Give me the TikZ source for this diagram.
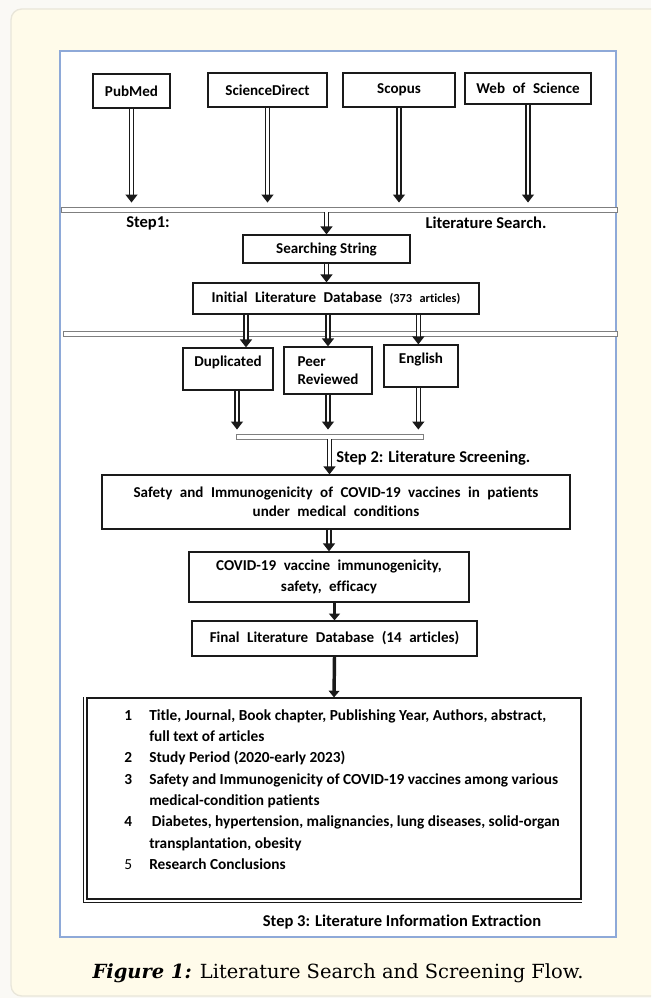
\documentclass[tikz,border=0pt]{standalone}
\usepackage{fontspec}
\setmainfont{Carlito}[Ligatures=NoCommon]
\newfontfamily\capfont{DejaVu Serif}
\usetikzlibrary{arrows.meta,positioning}
\definecolor{Ink}{HTML}{1A1A1A}
\definecolor{FrameBlue}{HTML}{8EA9D8}
\definecolor{BarGray}{HTML}{7F7F7F}
\definecolor{PanelFill}{HTML}{FFFBEA}
\definecolor{PanelEdge}{HTML}{E9E6DA}
\definecolor{PageFill}{HTML}{FAF9F5}
\newcommand\widegaps{\spaceskip=0.5em plus 0.1em\relax}
\tikzset{
  srcbox/.style={draw=Ink,fill=white,line width=0.9pt,font=\bfseries\fontsize{11.3}{13.5}\selectfont,inner sep=2pt,align=center},
  widebox/.style={srcbox,font=\bfseries\fontsize{11.3}{14.5}\selectfont\widegaps},
  flowbar/.style={draw=BarGray,fill=white,line width=0.7pt,inner sep=0pt,minimum height=3.75pt},
  steplabel/.style={font=\bfseries\fontsize{12.4}{14}\selectfont,inner sep=0pt},
  dblarrow/.style={draw=Ink,double=white,double distance=1.9pt,line width=1.05pt,-{Triangle[width=9pt,length=6pt]}},
  solidarrow/.style={draw=Ink,line width=2.6pt,-{Triangle[width=8pt,length=5pt]}},
  gapend/.style={shorten >=3pt}
}

\begin{document}
\begin{tikzpicture}[x=0.75pt,y=-0.75pt]
  \useasboundingbox (0,0) rectangle (651,998);
  \clip (0,0) rectangle (651,998);
  \fill[PageFill] (0,0) rectangle (651,998);
  \draw[PanelEdge,fill=PanelFill,line width=1pt,rounded corners=8pt] (11,9) rectangle (680,996);
  \draw[FrameBlue,fill=white,line width=1.1pt] (60,51) rectangle (616,937);

  % Step 1: sources
  \node[srcbox,minimum width=57.75pt,minimum height=25.5pt] (pubmed) at (131.5,91) {PubMed};
  \node[srcbox,minimum width=89.25pt,minimum height=25.5pt] (sdirect) at (267.5,90) {ScienceDirect};
  \node[srcbox,minimum width=84pt,minimum height=25.5pt] (scopus) at (399,90) {Scopus};
  \node[widebox,minimum width=94.5pt,minimum height=23.25pt] (wos) at (528,88.5) {Web of Science};
  \node[flowbar,minimum width=417pt] (bar1) at (339,209.5) {};
  \node[steplabel] (step1) at (148,223) {Step1:};
  \node[steplabel] (litsearch) at (486,223) {Literature Search.};
  \node[srcbox,minimum width=125.25pt,minimum height=21pt] (searching) at (326.5,249) {Searching String};
  \node[widebox,minimum width=214.5pt,minimum height=23.25pt] (initial) at (336,298.5) {Initial Literature Database {\fontsize{9.2}{11}\selectfont(373 articles)}};

  % Step 2: screening
  \node[flowbar,minimum width=415.5pt] (bar2) at (340,333.5) {};
  \node[srcbox,minimum width=67.5pt,minimum height=31.5pt,text depth=11pt] (dup) at (228,369) {Duplicated};
  \node[srcbox,minimum width=66pt,minimum height=35.25pt,align=left] (peer) at (328,370.5) {Peer\\Reviewed};
  \node[srcbox,minimum width=55.5pt,minimum height=31.5pt,text depth=11pt] (english) at (421,366) {English};
  \node[flowbar,minimum width=140.25pt] (bar3) at (329.5,436.5) {};
  \node[steplabel,anchor=west] (step2) at (336,458) {Step 2: Literature Screening.};
  \node[widebox,minimum width=351pt,minimum height=40.5pt] (safety) at (336,502) {Safety and Immunogenicity of COVID-19 vaccines in patients\\under medical conditions};
  \node[widebox,minimum width=210pt,minimum height=37.5pt,font=\bfseries\fontsize{11.3}{15.75}\selectfont\widegaps] (covid) at (329,577) {COVID-19 vaccine immunogenicity,\\safety, efficacy};
  \node[widebox,minimum width=213.75pt,minimum height=26.25pt] (final) at (334.5,638.5) {Final Literature Database (14 articles)};

  % Step 3: extraction
  \node[srcbox,minimum width=370.5pt,minimum height=150.75pt] (list) at (334,798.5) {};
  \draw[Ink,line width=0.6pt] ([xshift=-2.2pt]list.north west) |- ([yshift=-2.2pt]list.south east);
  \node[anchor=base west,inner sep=0pt,font=\bfseries\fontsize{11.5}{16}\selectfont] (items) at (124,720) {%
    \begin{tabular}[t]{@{}p{18.75pt}@{}l@{}}
      1 & Title, Journal, Book chapter, Publishing Year, Authors, abstract,\\
        & full text of articles\\
      2 & Study Period (2020-early 2023)\\
      3 & Safety and Immunogenicity of COVID-19 vaccines among various\\
        & medical-condition patients\\
      4 & \hspace{2pt}Diabetes, hypertension, malignancies, lung diseases, solid-organ\\
        & transplantation, obesity\\
      \mdseries 5 & Research Conclusions
    \end{tabular}};
  \node[steplabel] (step3) at (402,922) {Step 3: Literature Information Extraction};
  \node[anchor=base,inner sep=0pt,font=\capfont\fontsize{14.6}{16}\selectfont] (caption) at (338,978) {\textbf{\textit{Figure 1:}} Literature Search and Screening Flow.};

  % connectors
  \foreach \src in {pubmed,sdirect,scopus,wos}
    \draw[dblarrow,gapend] (\src.south) -- (\src.south |- bar1.north);
  \draw[dblarrow] (searching.north |- bar1.south) -- (searching.north);
  \draw[dblarrow] (searching.south) -- (searching.south |- initial.north);
  \draw[dblarrow] ([xshift=13.5pt]dup.north |- initial.south) -- ([xshift=13.5pt]dup.north);
  \draw[dblarrow] (peer.north |- initial.south) -- (peer.north);
  \draw[dblarrow] ([xshift=-2pt]english.north |- initial.south) -- ([xshift=-2pt]english.north);
  \draw[dblarrow,gapend] ([xshift=6.75pt]dup.south) -- ([xshift=6.75pt]dup.south |- bar3.north);
  \draw[dblarrow,gapend] (peer.south) -- (peer.south |- bar3.north);
  \draw[dblarrow,gapend] ([xshift=-2pt]english.south) -- ([xshift=-2pt]english.south |- bar3.north);
  \draw[dblarrow] (bar3.south) -- (bar3.south |- safety.north);
  \draw[dblarrow] (covid.north |- safety.south) -- (covid.north);
  \draw[solidarrow] (final.north |- covid.south) -- (final.north);
  \draw[solidarrow] (final.south) -- (list.north);
\end{tikzpicture}
\end{document}
